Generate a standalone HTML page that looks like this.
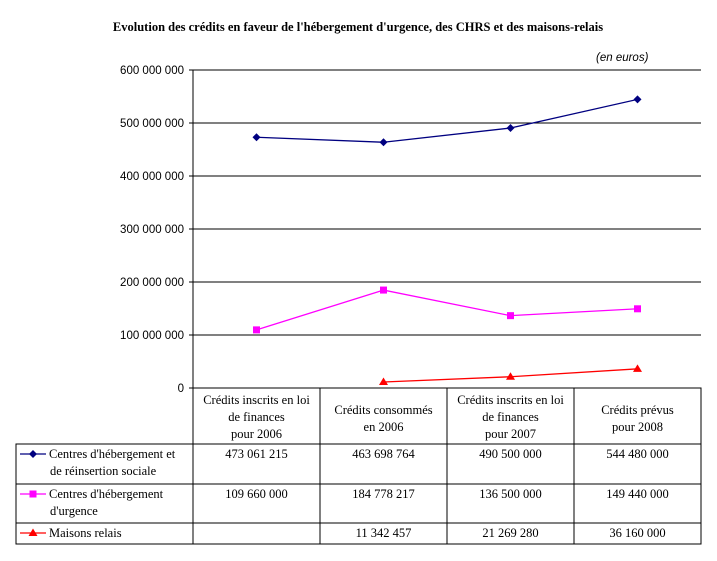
<!DOCTYPE html>
<html><head><meta charset="utf-8"><style>
body{margin:0;background:#fff}
svg{display:block}
.ax{font-family:"Liberation Sans",sans-serif;font-size:11.5px;fill:#000}
.tb{font-family:"Liberation Serif",serif;font-size:12.5px;fill:#000}
</style></head><body>
<svg id="c" width="717" height="561">
<text x="358" y="31" text-anchor="middle" font-family="Liberation Serif,serif" font-weight="bold" font-size="12.5">Evolution des crédits en faveur de l'hébergement d'urgence, des CHRS et des maisons-relais</text>
<text x="596" y="61" class="ax" font-style="italic">(en euros)</text>
<g id="grid"></g><g id="marks"></g><g id="table"></g>
</svg>
<script>
const categories=[["Crédits inscrits en loi","de finances","pour 2006"],["Crédits consommés","en 2006"],["Crédits inscrits en loi","de finances","pour 2007"],["Crédits prévus","pour 2008"]];
const chrs=[473061215,463698764,490500000,544480000];
const urgence=[109660000,184778217,136500000,149440000];
const relais=[null,11342457,21269280,36160000];
const chrsLabels=["473 061 215","463 698 764","490 500 000","544 480 000"];
const urgLabels=["109 660 000","184 778 217","136 500 000","149 440 000"];
const relLabels=["","11 342 457","21 269 280","36 160 000"];
const yTicks=[0,100000000,200000000,300000000,400000000,500000000,600000000];
const yTickLabels=["0","100 000 000","200 000 000","300 000 000","400 000 000","500 000 000","600 000 000"];
const NS="http://www.w3.org/2000/svg";
const X0=193,X1=701,Y0=388,Y1=70,YMAX=600000000;
const colW=(X1-X0)/categories.length;
const xs=i=>X0+colW*(i+0.5);
const ys=v=>Y0-(v/YMAX)*(Y0-Y1);
function mk(tag,at,parent,txt){const e=document.createElementNS(NS,tag);for(const k in at)e.setAttribute(k,at[k]);if(txt!==undefined)e.textContent=txt;parent.appendChild(e);return e;}
const grid=document.getElementById('grid'),marks=document.getElementById('marks'),table=document.getElementById('table');
yTicks.forEach((t,i)=>{const y=ys(t);
 if(t>0){const l=mk('line',{x1:X0,x2:X1,y1:y,y2:y,stroke:'#000','stroke-width':1},grid);}
 const tk=mk('line',{x1:X0-4,x2:X0,y1:y,y2:y,stroke:'#000'},grid);
 const tx=mk('text',{x:X0-9,y:y+4,'text-anchor':'end',class:'ax'},grid,yTickLabels[i]);});
const ax=mk('line',{x1:X0,x2:X0,y1:Y1,y2:Y0,stroke:'#000'},grid);
function marker(kind,x,y,col,p){let e;
 if(kind==='d')e=mk('polygon',{points:`${x},${y-4} ${x+4},${y} ${x},${y+4} ${x-4},${y}`,fill:col},p);
 else if(kind==='s')e=mk('rect',{x:x-3.5,y:y-3.5,width:7,height:7,fill:col},p);
 else e=mk('polygon',{points:`${x},${y-4.5} ${x+4.5},${y+3} ${x-4.5},${y+3}`,fill:col},p);
 return e;}
const series=[[chrs,'#000080','d','series-chrs'],[urgence,'#ff00ff','s','series-urgence'],[relais,'#ff0000','t','series-maisons-relais']];
series.forEach(([vals,col,kind,name])=>{const g=mk('g',{},marks);
 const pts=vals.map((v,i)=>v==null?null:[xs(i),ys(v)]).filter(p=>p);
 const pl=mk('polyline',{points:pts.map(p=>p.join(',')).join(' '),fill:'none',stroke:col,'stroke-width':1.3},g);
 pts.forEach(p=>{const m=marker(kind,p[0],p[1],col,g);});});
const L=16,rows=[388,444,484,523,544];
const T={stroke:'#000','stroke-width':1,fill:'none'};
let r;
r=mk('rect',{x:X0,y:rows[0],width:X1-X0,height:rows[1]-rows[0],...T},table);
r=mk('rect',{x:L,y:rows[1],width:X1-L,height:rows[4]-rows[1],...T},table);
[rows[2],rows[3]].forEach(y=>{const l=mk('line',{x1:L,x2:X1,y1:y,y2:y,stroke:'#000'},table);});
for(let i=0;i<=categories.length;i++){const x=X0+colW*i;const l=mk('line',{x1:x,x2:x,y1:rows[0],y2:rows[4],stroke:'#000'},table);}
categories.forEach((c,i)=>{const n=c.length;const top=n===3?404:414;c.forEach((s,j)=>{const t=mk('text',{x:xs(i),y:top+j*17,'text-anchor':'middle',class:'tb'},table,s);});});
const legend=[[["Centres d'hébergement et","de réinsertion sociale"],'#000080','d',chrsLabels],[["Centres d'hébergement","d'urgence"],'#ff00ff','s',urgLabels],[["Maisons relais"],'#ff0000','t',relLabels]];
legend.forEach(([lab,col,kind,vals],ri)=>{const y=rows[ri+1]+14;
 const l=mk('line',{x1:20,x2:46,y1:y-4,y2:y-4,stroke:col,'stroke-width':1.3},table);
 const m=marker(kind,33,y-4,col,table);
 lab.forEach((s,j)=>{const t=mk('text',{x:j===0?49:50,y:y+j*17,class:'tb'},table,s);});
 vals.forEach((v,i)=>{const t=mk('text',{x:xs(i),y:y,'text-anchor':'middle',class:'tb'},table,v);});});
</script>
</body></html>
